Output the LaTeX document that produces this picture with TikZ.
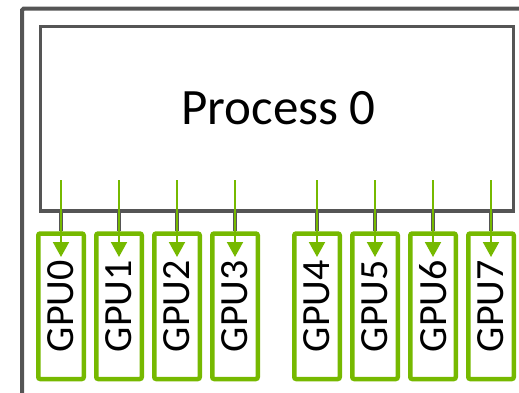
\documentclass[tikz,border=0pt]{standalone}
\usepackage{fontspec}
\setmainfont{Carlito}
\usetikzlibrary{arrows.meta}
\definecolor{frame}{HTML}{555555}
\definecolor{nvgreen}{HTML}{76B900}
\tikzset{
  outerframe/.style={draw=frame, line width=4pt, rounded corners=1.5pt},
  procbox/.style={draw=frame, line width=3.6pt, minimum width=473pt, minimum height=184.5pt,
    inner sep=0pt},
  proctext/.style={inner sep=0pt, font=\fontsize{51}{60}\selectfont},
  gpubox/.style={draw=nvgreen, line width=4.5pt, rounded corners=2pt, rotate=90,
    minimum width=145.5pt, minimum height=45.5pt, inner sep=0pt, font=\fontsize{40}{46}\selectfont},
  stub/.style={draw=frame, line width=4pt},
  feed/.style={draw=nvgreen, line width=2pt, -{Triangle[length=15pt,width=16pt]}},
}
\begin{document}
\begin{tikzpicture}[x=1pt,y=1pt]
  \useasboundingbox (0,0) rectangle (519,-393);
  \clip (0,0) rectangle (519,-393);
  % enclosing node frame, open to the right and bottom
  \draw[outerframe] (22,-420) -- (22,-8.7) -- (560,-8.7);
  % the process
  \node[procbox] (proc) at (277,-118.75) {};
  \node[proctext] (proclabel) at (278.5,-108.5) {Process 0};
  % GPUs with their links from the process
  \foreach \i/\cx in {0/61,1/119,2/177,3/235,4/317,5/375,6/433,7/491}{
    \node[gpubox] (gpu\i) at (\cx,-306.25) {GPU\i};
    \draw[stub] (proc.south -| gpu\i.east) -- (gpu\i.east);
    \coordinate (src\i) at (\cx,-180);
    \coordinate (dst\i) at (\cx,-257);
    \draw[feed] (src\i) -- (dst\i);
  }
\end{tikzpicture}
\end{document}
